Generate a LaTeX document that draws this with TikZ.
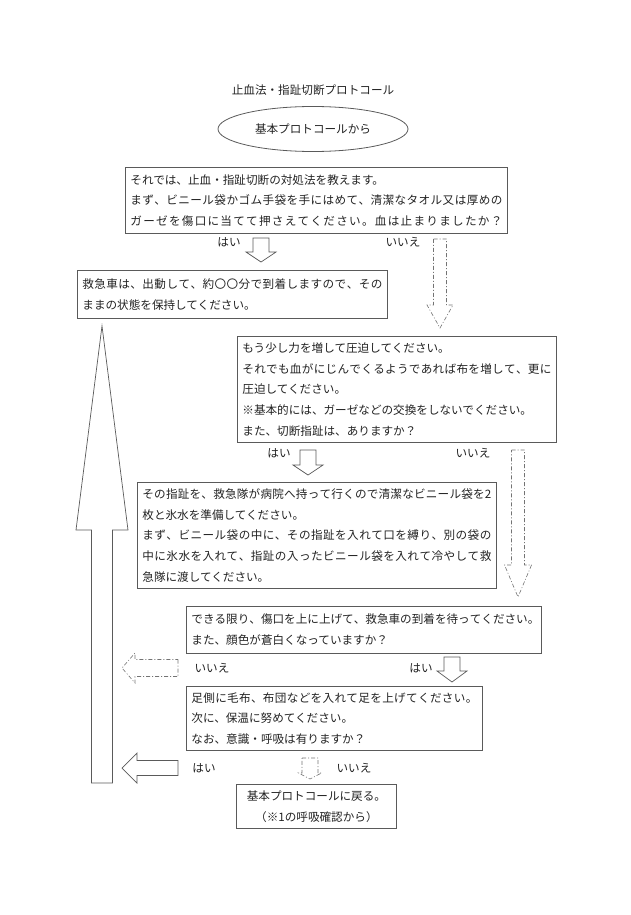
\documentclass[tikz,border=0pt]{standalone}
\usepackage{fontspec}
\setmainfont{Noto Sans CJK JP}
\usetikzlibrary{shapes.geometric}
\makeatletter
\def\jl#1{\makebox[\hsize][s]{\jl@A#1\relax}}
\def\jl@A#1{#1\jl@B}
\def\jl@B#1{\ifx#1\relax\else\hskip 0pt plus 1fil #1\expandafter\jl@B\fi}
\makeatother
\definecolor{edge}{HTML}{5A5A5A}
\definecolor{ink}{HTML}{222222}
\begin{document}
\begin{tikzpicture}[x=1pt,y=-1pt,
  every node/.style={font=\fontsize{11.6}{20.7}\selectfont, text=ink},
  box/.style={draw=edge, line width=0.8pt, anchor=north west, align=left, inner xsep=5pt, inner ysep=0pt},
  lbl/.style={inner sep=0pt},
  solidarrow/.style={draw=edge, line width=0.7pt, fill=white, line join=miter},
  dasharrow/.style={draw=edge!85, line width=0.6pt, dash pattern=on 4pt off 2pt on 1pt off 2pt}
]
\useasboundingbox (0,0) rectangle (630,915);

\node (title) at (313,90) {止血法・指趾切断プロトコール};
\node[ellipse, draw=edge, line width=0.8pt, minimum width=190pt, minimum height=45pt, inner sep=0pt] (start) at (313,129) {基本プロトコールから};

\node[box, text width=372pt, minimum height=66pt] (b1) at (125,167)
 {それでは、止血・指趾切断の対処法を教えます。\\\jl{まず、ビニール袋かゴム手袋を手にはめて、清潔なタオル又は厚めの}\\\jl{ガーゼを傷口に当てて押さえてください。血は止まりましたか？}};

\node[box, text width=300pt, minimum height=48pt] (b2) at (77,270)
 {\jl{救急車は、出動して、約〇〇分で到着しますので、その}\\ままの状態を保持してください。};

\node[box, text width=309pt, minimum height=106pt] (b3) at (237,336)
 {もう少し力を増して圧迫してください。\\\jl{それでも血がにじんでくるようであれば布を増して、更に}\\圧迫してください。\\※基本的には、ガーゼなどの交換をしないでください。\\また、切断指趾は、ありますか？};

\node[box, text width=349pt, minimum height=106pt] (b4) at (137,482)
 {\jl{その指趾を、救急隊が病院へ持って行くので清潔なビニール袋を2}\\枚と氷水を準備してください。\\\jl{まず、ビニール袋の中に、その指趾を入れて口を縛り、別の袋の}\\\jl{中に氷水を入れて、指趾の入ったビニール袋を入れて冷やして救}\\急隊に渡してください。};

\node[box, text width=345pt, minimum height=47pt] (b5) at (186,606)
 {\jl{できる限り、傷口を上に上げて、救急車の到着を待ってください。}\\また、顔色が蒼白くなっていますか？};

\node[box, text width=286pt, minimum height=64pt] (b6) at (186,686)
 {\jl{足側に毛布、布団などを入れて足を上げてください。}\\次に、保温に努めてください。\\なお、意識・呼吸は有りますか？};

\node[box, align=center, text width=150pt, minimum height=44pt] (b7) at (236,784)
 {基本プロトコールに戻る。\\（※1の呼吸確認から）};

% labels
\node[lbl] (y1) at (229,242) {はい};
\node[lbl] (n1) at (403,242) {いいえ};
\node[lbl] (y3) at (279,453) {はい};
\node[lbl] (n3) at (473,453) {いいえ};
\node[lbl] (n5) at (212,668) {いいえ};
\node[lbl] (y5) at (421,668) {はい};
\node[lbl] (y6) at (204,768) {はい};
\node[lbl] (n6) at (354,768) {いいえ};

% solid down arrows
\draw[solidarrow] (253,238) -- (269,238) -- (269,252) -- (276,252) -- (261,262) -- (246,252) -- (253,252) -- cycle;
\draw[solidarrow] (300,450) -- (316,450) -- (316,465) -- (323,465) -- (308,475) -- (293,465) -- (300,465) -- cycle;
\draw[solidarrow] (444,657) -- (460,657) -- (460,671) -- (467,671) -- (452,682) -- (437,671) -- (444,671) -- cycle;

% dashed arrows
\draw[dasharrow] (433.5,239) -- (446.5,239) -- (446.5,305) -- (453,305) -- (440,328) -- (427,305) -- (433.5,305) -- cycle;
\draw[dasharrow] (511.5,450) -- (524.5,450) -- (524.5,565) -- (531.5,565) -- (518,597) -- (504.5,565) -- (511.5,565) -- cycle;
\draw[dasharrow] (178,659.5) -- (178,676.5) -- (135,676.5) -- (135,683) -- (122,668) -- (135,653) -- (135,659.5) -- cycle;
\draw[dasharrow] (302,758) -- (318,758) -- (318,773) -- (321.5,773) -- (310,779) -- (298.5,773) -- (302,773) -- cycle;

% solid left arrow
\draw[solidarrow] (178,760.5) -- (178,775.5) -- (137,775.5) -- (137,783) -- (122,768) -- (137,753) -- (137,760.5) -- cycle;

% big up arrow
\draw[solidarrow] (91.5,783) -- (112.5,783) -- (112.5,530) -- (128,530) -- (102,326) -- (76,530) -- (91.5,530) -- cycle;
\end{tikzpicture}
\end{document}
